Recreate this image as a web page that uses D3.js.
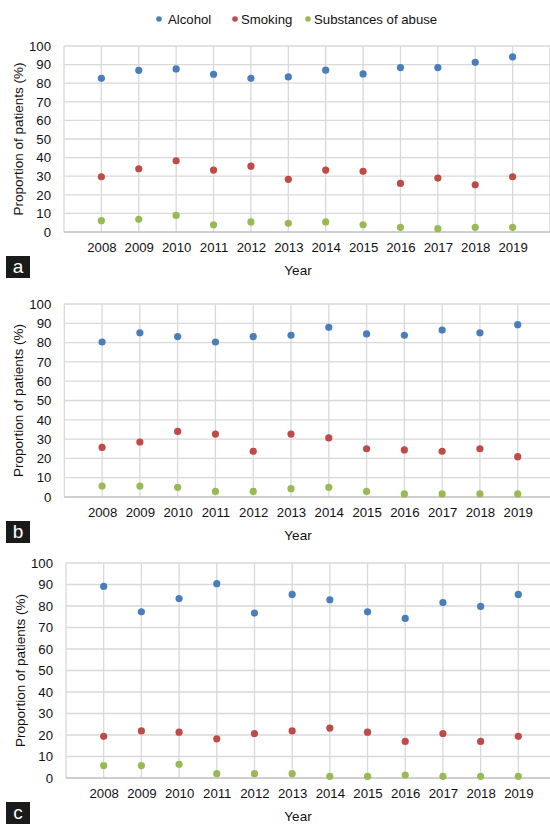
<!DOCTYPE html>
<html>
<head>
<meta charset="utf-8">
<script src="https://cdn.jsdelivr.net/npm/d3@7"></script>
<style>
  body { margin: 0; background: #fff; }
  svg { display: block; font-family: "Liberation Sans", Arial, sans-serif; }
</style>
</head>
<body>
<div id="chart"></div>
<script>
// data
const years = [2008, 2009, 2010, 2011, 2012, 2013, 2014, 2015, 2016, 2017, 2018, 2019];
const seriesNames = ['Alcohol', 'Smoking', 'Substances of abuse'];
const yTicks = [0, 10, 20, 30, 40, 50, 60, 70, 80, 90, 100];

const alcoholA    = [82.6, 86.9, 87.7, 84.8, 82.6, 83.4, 87.0, 85.0, 88.4, 88.4, 91.2, 94.1];
const smokingA    = [29.7, 34.0, 38.3, 33.3, 35.4, 28.3, 33.3, 32.6, 26.1, 29.0, 25.4, 29.7];
const substanceA  = [6.1, 6.8, 8.9, 3.9, 5.4, 4.7, 5.4, 3.9, 2.5, 1.8, 2.5, 2.5];

const alcoholB    = [80.3, 85.1, 83.1, 80.3, 83.1, 83.8, 87.9, 84.5, 83.8, 86.5, 85.1, 89.3];
const smokingB    = [25.7, 28.5, 34.0, 32.6, 23.7, 32.6, 30.6, 25.0, 24.4, 23.7, 25.0, 20.9];
const substanceB  = [5.7, 5.7, 5.0, 2.9, 2.9, 4.3, 5.0, 2.9, 1.6, 1.6, 1.6, 1.6];

const alcoholC    = [89.1, 77.3, 83.5, 90.4, 76.7, 85.4, 82.9, 77.3, 74.2, 81.6, 79.8, 85.4];
const smokingC    = [19.4, 21.9, 21.3, 18.2, 20.7, 21.9, 23.2, 21.3, 17.0, 20.7, 17.0, 19.4];
const substanceC  = [5.8, 5.8, 6.4, 2.0, 2.0, 2.0, 0.8, 0.8, 1.4, 0.8, 0.8, 0.8];

const colors = ['#4a7ebb', '#be4b48', '#98b954'];

const panels = [
  {tag: 'a', series: [alcoholA, smokingA, substanceA], left: 64, right: 550, top: 46, bottom: 232},
  {tag: 'b', series: [alcoholB, smokingB, substanceB], left: 64.3, right: 555.5, top: 304, bottom: 497},
  {tag: 'c', series: [alcoholC, smokingC, substanceC], left: 66, right: 556, top: 563, bottom: 778}
];

const width = 550, height = 825;
const textColor = '#111';
const svg = d3.select('#chart').append('svg')
  .attr('width', width).attr('height', height);

// legend
const legendX = [159, 235, 308];
const legend = svg.append('g').attr('class', 'legend');
seriesNames.forEach((name, i) => {
  legend.append('circle').attr('cx', legendX[i]).attr('cy', 19).attr('r', 2.8).attr('fill', colors[i]);
  legend.append('text').attr('x', legendX[i] + (i === 0 ? 9 : 6)).attr('y', 23.5)
    .attr('font-size', 13.2).attr('fill', textColor).text(name);
});

panels.forEach(p => {
  const g = svg.append('g').attr('class', 'panel-' + p.tag);

  const x = d3.scaleLinear().domain([2007, 2020]).range([p.left, p.right]);
  const y = d3.scaleLinear().domain([0, 100]).range([p.bottom, p.top]);

  // horizontal grid
  g.append('g').selectAll('line').data(yTicks.filter(d => d > 0)).join('line')
    .attr('x1', p.left).attr('x2', p.right)
    .attr('y1', d => y(d)).attr('y2', d => y(d))
    .attr('stroke', '#d9d9d9').attr('stroke-width', 1.3);

  // vertical grid
  g.append('g').selectAll('line').data(d3.range(2007, 2021)).join('line')
    .attr('x1', d => x(d)).attr('x2', d => x(d))
    .attr('y1', p.top).attr('y2', p.bottom)
    .attr('stroke', '#d9d9d9').attr('stroke-width', 1.3);

  // baseline
  g.append('line').attr('x1', p.left).attr('x2', p.right)
    .attr('y1', p.bottom).attr('y2', p.bottom)
    .attr('stroke', '#bfbfbf').attr('stroke-width', 1.3);

  // y axis labels
  const yAxis = d3.axisLeft(y).tickValues(yTicks).tickSize(0).tickPadding(13);
  const ya = g.append('g').attr('transform', `translate(${p.left},0)`).call(yAxis);
  ya.select('.domain').remove();
  ya.selectAll('text').attr('font-size', 13.2).attr('fill', textColor)
    .attr('font-family', '"Liberation Sans", Arial, sans-serif');

  // x axis labels
  const xAxis = d3.axisBottom(x).tickValues(years).tickFormat(d3.format('d')).tickSize(0).tickPadding(11);
  const xa = g.append('g').attr('transform', `translate(0,${p.bottom})`).call(xAxis);
  xa.select('.domain').remove();
  xa.selectAll('text').attr('font-size', 13.2).attr('fill', textColor)
    .attr('font-family', '"Liberation Sans", Arial, sans-serif');

  // axis titles
  g.append('text')
    .attr('transform', `translate(${p.left - 41},${(p.top + p.bottom) / 2}) rotate(-90)`)
    .attr('text-anchor', 'middle').attr('font-size', 13.5).attr('fill', textColor)
    .text('Proportion of patients (%)');
  g.append('text').attr('x', 298).attr('y', p.bottom + 43)
    .attr('text-anchor', 'middle').attr('font-size', 13.5).attr('fill', textColor).text('Year');

  // points
  p.series.forEach((vals, si) => {
    g.append('g').selectAll('circle').data(vals).join('circle')
      .attr('cx', (d, i) => x(years[i]))
      .attr('cy', d => y(d))
      .attr('r', 3.6)
      .attr('fill', colors[si]);
  });

  // panel tag
  const tagY = p.bottom + 24;
  g.append('rect').attr('x', 6).attr('y', tagY).attr('width', 24).attr('height', 22).attr('fill', '#1a1a1a');
  g.append('text').attr('x', 18).attr('y', tagY + 17).attr('text-anchor', 'middle')
    .attr('font-size', 19).attr('fill', '#fff').text(p.tag);
});
</script>
</body>
</html>
